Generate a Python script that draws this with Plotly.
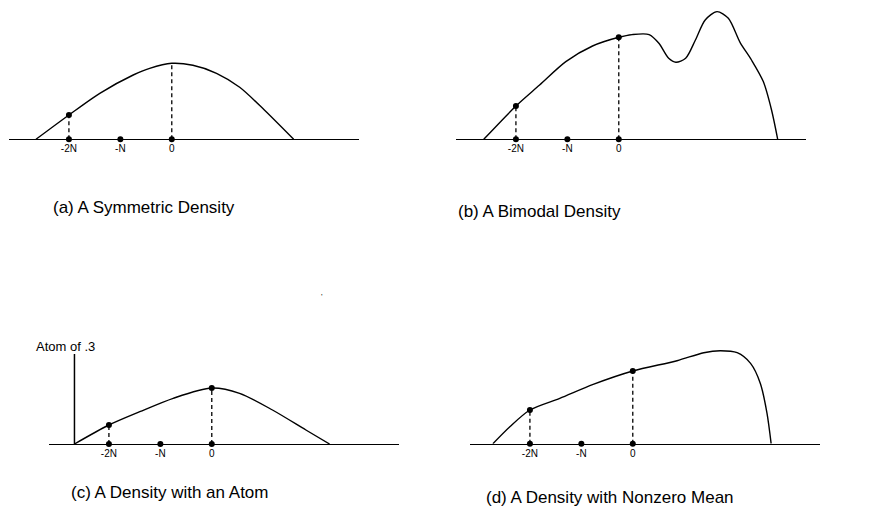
import numpy as np
import plotly.graph_objects as go

# Positions on the horizontal axis, in units of N
tick_vals = [-2, -1, 0]
tick_text = ["-2N", "-N", "0"]

# (a) symmetric density
sym_x = [-2.64, -2.0, -1.40, -0.75, -0.43, 0.0, 0.41, 0.87, 1.32, 1.80, 2.37]
sym_y = [0.0, 0.243, 0.46, 0.643, 0.71, 0.76, 0.74, 0.66, 0.52, 0.293, 0.0]

# (b) bimodal density
bim_x = [-2.625, -2.0, -1.54, -1.03, -0.51, 0.0, 0.26, 0.59, 0.78, 0.97, 1.11,
         1.30, 1.49, 1.68, 1.91, 2.13, 2.36, 2.58, 2.81, 2.97, 3.09]
bim_y = [0.0, 0.333, 0.543, 0.777, 0.933, 1.02, 1.047, 1.047, 0.96, 0.81, 0.77,
         0.81, 0.993, 1.193, 1.277, 1.21, 0.967, 0.793, 0.577, 0.293, 0.0]

# (c) density with a point mass at the left end of its support
atom_x = [-2.67, -2.0, -1.40, -0.75, 0.0, 0.54, 1.18, 1.83, 2.29]
atom_y = [0.0, 0.19, 0.323, 0.457, 0.56, 0.507, 0.34, 0.14, 0.0]
atom_loc = -2.67
atom_mass_height = 0.90
atom_label = "Atom of .3"

# (d) skewed density with nonzero mean
skew_x = [-2.72, -2.39, -2.0, -1.42, -0.77, 0.0, 0.86, 1.38, 1.70, 2.03,
          2.29, 2.48, 2.61, 2.69]
skew_y = [0.0, 0.17, 0.337, 0.453, 0.593, 0.727, 0.83, 0.91, 0.93, 0.91,
          0.803, 0.603, 0.303, 0.0]

titles = ["(a) A Symmetric Density", "(b) A Bimodal Density",
          "(c) A Density with an Atom", "(d) A Density with Nonzero Mean"]

W, H = 872, 514
X_RANGE = [-3.165, 3.64]
Y_RANGE = [0.0, 1.35]
PANEL_W = 350   # px
PANEL_H = 135   # px
FONT = "Liberation Sans, Arial, sans-serif"


def fx(px):
    return px / W


def fy(py):
    return 1 - py / H


# (curve x, curve y, dots drawn on the curve, left px, baseline px)
panels = [
    (sym_x, sym_y, [-2], 9, 139.3),
    (bim_x, bim_y, [-2, 0], 456, 139.3),
    (atom_x, atom_y, [-2, 0], 49, 444.0),
    (skew_x, skew_y, [-2, 0], 470, 443.7),
]

fig = go.Figure()
layout = dict(
    width=W, height=H, margin=dict(l=0, r=0, t=0, b=0),
    paper_bgcolor="white", plot_bgcolor="white", showlegend=False,
)

for i, (cx, cy, on_curve, left, base) in enumerate(panels):
    n = i + 1
    xa = "x" if n == 1 else f"x{n}"
    ya = "y" if n == 1 else f"y{n}"
    xkey = "xaxis" if n == 1 else f"xaxis{n}"
    ykey = "yaxis" if n == 1 else f"yaxis{n}"
    layout[xkey] = dict(
        domain=[fx(left), fx(left + PANEL_W)], range=X_RANGE, anchor=ya,
        showgrid=False, zeroline=False, showline=True, linecolor="black",
        linewidth=1.2, ticks="", tickvals=tick_vals, ticktext=tick_text,
        tickfont=dict(family=FONT, size=10, color="black"), fixedrange=True,
    )
    layout[ykey] = dict(
        domain=[fy(base), fy(base - PANEL_H)], range=Y_RANGE, anchor=xa,
        visible=False, fixedrange=True,
    )

    # density curve
    fig.add_trace(go.Scatter(
        x=cx, y=cy, xaxis=xa, yaxis=ya, mode="lines",
        line=dict(color="black", width=1.4, shape="spline", smoothing=0.8),
        hoverinfo="skip",
    ))
    # dashed drop lines and dots on the curve
    for v in on_curve:
        h = float(np.interp(v, cx, cy))
        fig.add_trace(go.Scatter(
            x=[v, v], y=[0, h], xaxis=xa, yaxis=ya, mode="lines",
            line=dict(color="black", width=1.3, dash="4px,3px"),
            hoverinfo="skip",
        ))
        fig.add_trace(go.Scatter(
            x=[v], y=[h], xaxis=xa, yaxis=ya, mode="markers",
            marker=dict(color="black", size=6), hoverinfo="skip",
        ))
    if i == 0:
        # drop line to the peak, without a dot
        h0 = float(np.interp(0, cx, cy))
        fig.add_trace(go.Scatter(
            x=[0, 0], y=[0, h0], xaxis=xa, yaxis=ya, mode="lines",
            line=dict(color="black", width=1.3, dash="4px,3px"),
            hoverinfo="skip",
        ))
    # dots on the axis at -2N, -N, 0
    fig.add_trace(go.Scatter(
        x=tick_vals, y=[0] * len(tick_vals), xaxis=xa, yaxis=ya,
        mode="markers", marker=dict(color="black", size=6),
        cliponaxis=False, hoverinfo="skip",
    ))
    if i == 2:
        # point mass drawn as a vertical spike
        fig.add_trace(go.Scatter(
            x=[atom_loc, atom_loc], y=[0, atom_mass_height], xaxis=xa,
            yaxis=ya, mode="lines", line=dict(color="black", width=1.5),
            cliponaxis=False, hoverinfo="skip",
        ))

annotations = []
title_pos = [(51, 207), (456, 211), (69, 492), (484, 497)]
for t, (px, py) in zip(titles, title_pos):
    annotations.append(dict(
        text=t, xref="paper", yref="paper", x=fx(px), y=fy(py),
        xanchor="left", yanchor="middle", showarrow=False,
        font=dict(family=FONT, size=17, color="black"),
    ))
annotations.append(dict(
    text=atom_label, xref="x3", yref="y3", x=atom_loc - 0.18,
    y=atom_mass_height + 0.08, xanchor="center", yanchor="middle",
    showarrow=False, font=dict(family=FONT, size=13, color="black"),
))
annotations.append(dict(
    text="'", xref="paper", yref="paper", x=fx(322), y=fy(296),
    xanchor="center", yanchor="middle", showarrow=False,
    font=dict(family=FONT, size=8, color="black"),
))
layout["annotations"] = annotations

fig.update_layout(**layout)
fig.write_html("out.html")
